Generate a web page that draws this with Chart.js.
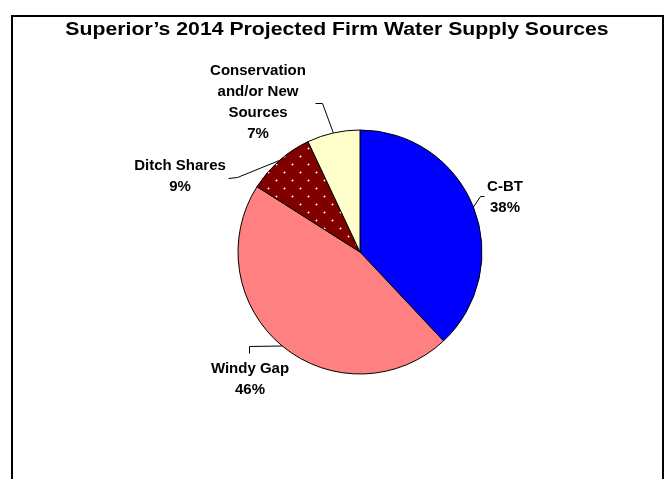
<!DOCTYPE html>
<html>
<head>
<meta charset="utf-8">
<title>Superior's 2014 Projected Firm Water Supply Sources</title>
<script src="https://cdn.jsdelivr.net/npm/chart.js@4"></script>
<style>
  html, body { margin: 0; padding: 0; background: #fff; }
  canvas { display: block; }
</style>
</head>
<body>
<canvas id="pieChart" width="668" height="479"></canvas>
<script>
const titulo = 'Superior\u2019s 2014 Projected Firm Water Supply Sources';
const fontes = ['C-BT', 'Windy Gap', 'Ditch Shares', 'Conservation and/or New Sources'];
const linhasRotulo = [['C-BT'], ['Windy Gap'], ['Ditch Shares'], ['Conservation', 'and/or New', 'Sources']];
const percentuais = [38, 46, 9, 7];

// padrão pontilhado da fatia "Ditch Shares"
function padraoPontos() {
  const c = document.createElement('canvas');
  c.width = 16;
  c.height = 16;
  const g = c.getContext('2d');
  g.fillStyle = '#800000';
  g.fillRect(0, 0, 16, 16);
  [[4, 4], [12, 12]].forEach(([x, y]) => {
    g.fillStyle = 'rgba(255,200,200,0.55)';
    g.fillRect(x - 1, y, 3, 1);
    g.fillRect(x, y - 1, 1, 3);
    g.fillStyle = '#ffffff';
    g.fillRect(x, y, 1, 1);
  });
  return g.createPattern(c, 'repeat');
}

const ctx = document.getElementById('pieChart');

// posição dos rótulos: cotovelo da linha, fim da linha, centro do texto, primeira linha de base
const guias = [
  { cotovelo: [480, 196], fim: [484, 196], x: 505, y: 191 },
  { cotovelo: [249, 346], fim: [249, 353], x: 250, y: 373 },
  { cotovelo: [237, 177], fim: [228, 178], x: 180, y: 170 },
  { cotovelo: [322, 103], fim: [315, 103], x: 258, y: 75 }
];

const rotulosPlugin = {
  id: 'rotulos',
  afterDraw(chart) {
    const c = chart.ctx;
    c.save();
    // moldura
    c.strokeStyle = '#000';
    c.lineWidth = 2;
    c.strokeRect(12, 16, 651, 500);

    // título (um pouco mais largo, como no original)
    c.fillStyle = '#000';
    c.textAlign = 'center';
    c.textBaseline = 'alphabetic';
    c.save();
    c.translate(337, 35);
    c.scale(1.18, 1);
    c.font = 'bold 18px "Liberation Sans", Arial, sans-serif';
    c.fillText(titulo, 0, 0);
    c.restore();

    const arcs = chart.getDatasetMeta(0).data;
    c.lineWidth = 1;
    c.font = 'bold 15px "Liberation Sans", Arial, sans-serif';
    arcs.forEach((arc, i) => {
      const p = arc.getProps(['x', 'y', 'startAngle', 'endAngle', 'outerRadius'], true);
      const meio = (p.startAngle + p.endAngle) / 2;
      const sx = p.x + Math.cos(meio) * p.outerRadius;
      const sy = p.y + Math.sin(meio) * p.outerRadius;
      const g = guias[i];
      c.beginPath();
      c.moveTo(sx, sy);
      c.lineTo(g.cotovelo[0] + 0.5, g.cotovelo[1] + 0.5);
      c.lineTo(g.fim[0] + 0.5, g.fim[1] + 0.5);
      c.stroke();

      const linhas = linhasRotulo[i].concat([percentuais[i] + '%']);
      linhas.forEach((t, k) => c.fillText(t, g.x, g.y + k * 21));
    });
    c.restore();
  }
};

new Chart(ctx, {
  type: 'pie',
  data: {
    labels: fontes,
    datasets: [{
      data: percentuais,
      backgroundColor: ['#0000ff', '#ff8080', padraoPontos(), '#ffffcc'],
      borderColor: '#000000',
      borderWidth: 1,
      radius: 122
    }]
  },
  options: {
    responsive: false,
    animation: false,
    layout: {
      padding: { left: 52, right: 0, top: 25, bottom: 0 }
    },
    plugins: {
      legend: { display: false },
      tooltip: { enabled: false },
      title: { display: false }
    }
  },
  plugins: [rotulosPlugin]
});
</script>
</body>
</html>
